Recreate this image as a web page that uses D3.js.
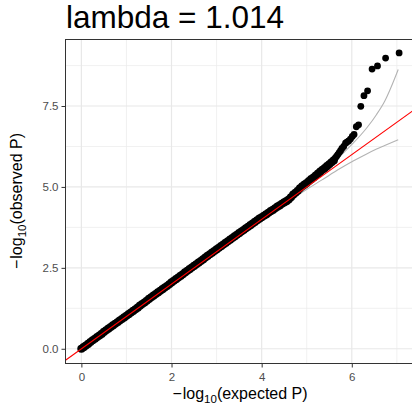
<!DOCTYPE html>
<html>
<head>
<meta charset="utf-8">
<script src="https://cdn.jsdelivr.net/npm/d3@7"></script>
<style>
  body { margin: 0; background: #fff; }
  svg { display: block; }
  text { font-family: "Liberation Sans", Arial, Helvetica, sans-serif; }
</style>
</head>
<body>
<svg id="chart" width="412" height="404"></svg>
<script>
// QQ plot of GWAS p-values: -log10 expected vs -log10 observed

const titleText = "lambda = 1.014";

// dense body of the distribution
const expectedDense = [
  0.00,0.05,0.10,0.15,0.20,0.25,0.30,0.35,0.40,0.45,
  0.50,0.55,0.60,0.65,0.70,0.75,0.80,0.85,0.90,0.95,
  1.00,1.05,1.10,1.15,1.20,1.25,1.30,1.35,1.40,1.45,
  1.50,1.55,1.60,1.65,1.70,1.75,1.80,1.85,1.90,1.95,
  2.00,2.05,2.10,2.15,2.20,2.25,2.30,2.35,2.40,2.45,
  2.50,2.55,2.60,2.65,2.70,2.75,2.80,2.85,2.90,2.95,
  3.00,3.05,3.10,3.15,3.20,3.25,3.30,3.35,3.40,3.45,
  3.50,3.55,3.60,3.65,3.70,3.75,3.80,3.85,3.90,3.95,
  4.00,4.05,4.10,4.15,4.20,4.25,4.30,4.35,4.40,4.45,
  4.50,4.55,4.60,4.65,4.70,4.75,4.80,4.85,4.90,4.95,
  5.00,5.05,5.10,5.15,5.20,5.25,5.30,5.35,5.40,5.45,
  5.50,5.55,5.60
];
const observedDense = [
  0.00,0.05,0.10,0.15,0.21,0.26,0.31,0.36,0.41,0.46,
  0.52,0.57,0.62,0.67,0.72,0.77,0.82,0.87,0.92,0.97,
  1.02,1.07,1.12,1.17,1.22,1.27,1.33,1.38,1.43,1.48,
  1.54,1.59,1.64,1.69,1.74,1.79,1.84,1.89,1.94,1.99,
  2.05,2.10,2.15,2.20,2.25,2.30,2.36,2.41,2.46,2.51,
  2.56,2.61,2.66,2.71,2.76,2.82,2.87,2.92,2.97,3.02,
  3.07,3.12,3.17,3.22,3.27,3.32,3.37,3.42,3.47,3.52,
  3.57,3.62,3.67,3.72,3.77,3.82,3.87,3.92,3.97,4.02,
  4.06,4.11,4.15,4.20,4.25,4.29,4.34,4.39,4.43,4.48,
  4.52,4.56,4.61,4.68,4.76,4.82,4.88,4.96,5.02,5.07,
  5.12,5.18,5.24,5.29,5.35,5.41,5.47,5.53,5.58,5.64,
  5.70,5.76,5.82
];

// top hits in the tail
const expectedTail = [5.63,5.66,5.69,5.72,5.75,5.78,5.82,5.86,5.89,5.93,5.97,6.01,6.05,6.10,6.15,6.20,6.27,6.35,6.45,6.57,6.75,7.05];
const observedTail = [5.89,5.94,6.00,6.06,6.12,6.19,6.25,6.35,6.38,6.42,6.48,6.56,6.62,6.86,6.92,7.49,7.82,7.97,8.64,8.74,8.98,9.14];

// 95% confidence band of the null distribution
const ciExpected = [4.03,4.55,5.03,5.33,5.73,6.03,6.33,6.55,6.73,7.03];
const ciUpper    = [4.06,4.60,5.12,5.46,5.94,6.35,6.82,7.24,7.65,8.63];
const ciLower    = [4.00,4.51,4.95,5.21,5.56,5.80,6.02,6.17,6.28,6.46];

const xTicks = [0, 2, 4, 6];
const xMinor = [1, 3, 5, 7];
const yTicks = [0, 2.5, 5, 7.5];
const yMinor = [1.25, 3.75, 6.25, 8.75];

const svg = d3.select("#chart");
const panel = { left: 65.5, right: 415, top: 39.5, bottom: 363.5 };

const x = d3.scaleLinear().domain([-0.3525, 7.4025]).range([panel.left, panel.right]);
const y = d3.scaleLinear().domain([-0.455, 9.555]).range([panel.bottom, panel.top]);

svg.append("defs").append("clipPath").attr("id", "panel-clip")
  .append("rect")
  .attr("x", panel.left).attr("y", panel.top)
  .attr("width", panel.right - panel.left).attr("height", panel.bottom - panel.top);

// grid
const grid = svg.append("g");
grid.selectAll(".xminor").data(xMinor).join("line")
  .attr("x1", d => x(d)).attr("x2", d => x(d))
  .attr("y1", panel.top).attr("y2", panel.bottom)
  .attr("stroke", "#EBEBEB").attr("stroke-width", 0.7);
grid.selectAll(".yminor").data(yMinor).join("line")
  .attr("y1", d => y(d)).attr("y2", d => y(d))
  .attr("x1", panel.left).attr("x2", panel.right)
  .attr("stroke", "#EBEBEB").attr("stroke-width", 0.7);
grid.selectAll(".xmajor").data(xTicks).join("line")
  .attr("x1", d => x(d)).attr("x2", d => x(d))
  .attr("y1", panel.top).attr("y2", panel.bottom)
  .attr("stroke", "#E8E8E8").attr("stroke-width", 1.2);
grid.selectAll(".ymajor").data(yTicks).join("line")
  .attr("y1", d => y(d)).attr("y2", d => y(d))
  .attr("x1", panel.left).attr("x2", panel.right)
  .attr("stroke", "#E8E8E8").attr("stroke-width", 1.2);

const plot = svg.append("g").attr("clip-path", "url(#panel-clip)");

// confidence band lines
const ciLine = d3.line()
  .x((d, i) => x(ciExpected[i]))
  .y(d => y(d))
  .curve(d3.curveMonotoneX);
[ciUpper, ciLower].forEach(arr => {
  plot.append("path").datum(arr)
    .attr("d", ciLine)
    .attr("fill", "none").attr("stroke", "#B3B3B3").attr("stroke-width", 1.1);
});

// points: the dense body overplots into a thick band
plot.append("g").selectAll("circle")
  .data(expectedDense.map((e, i) => [e, observedDense[i]]))
  .join("circle")
  .attr("cx", d => x(d[0])).attr("cy", d => y(d[1]))
  .attr("r", 4.1).attr("fill", "#000");
plot.append("g").selectAll("circle")
  .data(expectedTail.map((e, i) => [e, observedTail[i]]))
  .join("circle")
  .attr("cx", d => x(d[0])).attr("cy", d => y(d[1]))
  .attr("r", 3.4).attr("fill", "#000");

// identity line
const [dx0, dx1] = x.domain();
plot.append("line")
  .attr("x1", x(dx0)).attr("y1", y(dx0))
  .attr("x2", x(dx1)).attr("y2", y(dx1))
  .attr("stroke", "#FF0000").attr("stroke-width", 1.1);

// panel border
svg.append("rect")
  .attr("x", panel.left).attr("y", panel.top)
  .attr("width", panel.right - panel.left).attr("height", panel.bottom - panel.top)
  .attr("fill", "none").attr("stroke", "#333333").attr("stroke-width", 1);

// axes
const styleAxis = g => {
  g.select(".domain").remove();
  g.selectAll(".tick line").attr("stroke", "#333333").attr("stroke-width", 1);
  g.selectAll(".tick text").attr("fill", "#4D4D4D")
    .style("font-size", "11.5px")
    .style("font-family", '"Liberation Sans", Arial, Helvetica, sans-serif');
};
svg.append("g").attr("transform", `translate(0,${panel.bottom})`)
  .call(d3.axisBottom(x).tickValues(xTicks).tickFormat(d3.format("d")).tickSize(4).tickPadding(5.5))
  .call(styleAxis);
svg.append("g").attr("transform", `translate(${panel.left},0)`)
  .call(d3.axisLeft(y).tickValues(yTicks).tickFormat(d3.format(".1f")).tickSize(4).tickPadding(3))
  .call(styleAxis);

// axis titles with subscripted log base
function axisTitle(g, word) {
  const t = g.append("text").attr("text-anchor", "middle").attr("fill", "#000")
    .style("font-size", "16px");
  t.append("tspan").text("\u2212");
  t.append("tspan").attr("dx", 1).text("log");
  t.append("tspan").attr("dy", 4).style("font-size", "11.5px").text("10");
  t.append("tspan").attr("dy", -4).text("(" + word + " P)");
  return t;
}
axisTitle(svg.append("g").attr("transform", "translate(240,399)"), "expected");
axisTitle(svg.append("g").attr("transform", "translate(22,201) rotate(-90)"), "observed");

// title
svg.append("text").attr("x", 66).attr("y", 28.3)
  .attr("fill", "#000").style("font-size", "31.5px")
  .text(titleText);
</script>
</body>
</html>
